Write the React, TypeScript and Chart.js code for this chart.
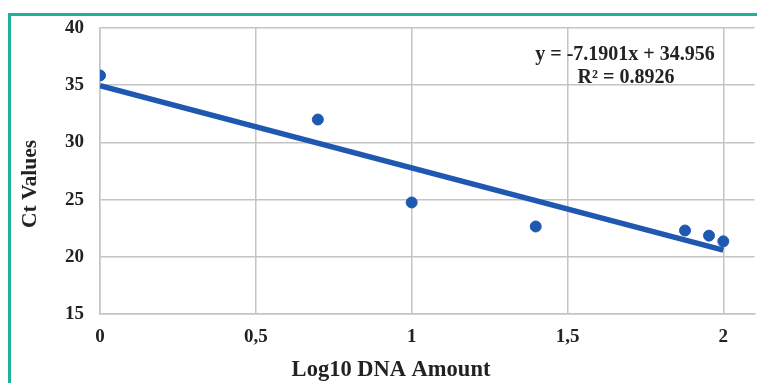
import React, { useEffect, useRef } from "react";
import { Chart, registerables } from "chart.js";

Chart.register(...registerables);

const logDNA = [0, 0.699, 1, 1.398, 1.877, 1.954, 2];
const ctValues = [35.85, 32.0, 24.75, 22.65, 22.3, 21.85, 21.35];
const trendX = [0, 2];
const trendY = [34.956, 20.576];
const xTicks = [0, 0.5, 1, 1.5, 2];
const equationLines = ["y = -7.1901x + 34.956", "R² = 0.8926"];
const xTitle = "Log10 DNA Amount";
const yTitle = "Ct Values";

const FONT = "'Liberation Serif', 'Times New Roman', serif";
const BLUE = "#1f58b0";
const GRID = "#c4c4c4";

export default function App() {
  const ref = useRef<HTMLCanvasElement | null>(null);
  useEffect(() => {
    document.body.style.margin = "0";
    const canvas = ref.current!;
    const overlay = {
      id: "overlay",
      afterDraw(chart: any) {
        const ctx = chart.ctx;
        ctx.save();
        // teal frame
        ctx.strokeStyle = "#1db39b";
        ctx.lineWidth = 3;
        ctx.beginPath();
        ctx.moveTo(9.5, 400);
        ctx.lineTo(9.5, 14.5);
        ctx.lineTo(800, 14.5);
        ctx.stroke();
        ctx.fillStyle = "#222";
        ctx.font = `bold 20px ${FONT}`;
        ctx.textAlign = "center";
        ctx.textBaseline = "middle";
        ctx.fillText(equationLines[0], 625, 55);
        ctx.fillText(equationLines[1], 626, 78);
        ctx.font = `bold 22.5px ${FONT}`;
        ctx.fillText(xTitle, 391, 370);
        ctx.font = `bold 21.5px ${FONT}`;
        ctx.translate(30, 184);
        ctx.rotate(-Math.PI / 2);
        ctx.fillText(yTitle, 0, 0);
        ctx.restore();
      },
    };
    const chart = new Chart(canvas, {
      type: "scatter",
      data: {
        datasets: [
          {
            type: "line",
            data: trendX.map((x, i) => ({ x, y: trendY[i] })),
            borderColor: BLUE,
            borderWidth: 5.5,
            pointRadius: 0,
            borderCapStyle: "butt",
            order: 2,
          } as any,
          {
            data: logDNA.map((x, i) => ({ x, y: ctValues[i] })),
            backgroundColor: BLUE,
            borderColor: BLUE,
            pointRadius: 5.5,
            order: 1,
          },
        ],
      },
      options: {
        animation: false,
        responsive: false,
        layout: { padding: { top: 28, right: 0, left: 0, bottom: 0 } },
        plugins: { legend: { display: false }, tooltip: { enabled: false } },
        scales: {
          x: {
            type: "linear",
            min: 0,
            max: 2.1,
            afterBuildTicks: (s: any) => {
              s.ticks = xTicks.map((v) => ({ value: v }));
            },
            afterFit: (s: any) => {
              s.height = 69;
            },
            ticks: {
              callback: (v: any) => String(v).replace(".", ","),
              font: { family: FONT, size: 19, weight: "bold" },
              color: "#222",
              padding: 12,
              maxRotation: 0,
            },
            grid: { color: GRID, lineWidth: 1.5, drawTicks: false },
            border: { color: GRID, width: 1.5 },
          },
          y: {
            min: 15,
            max: 40,
            afterFit: (s: any) => {
              s.width = 100;
            },
            ticks: {
              stepSize: 5,
              font: { family: FONT, size: 19, weight: "bold" },
              color: "#222",
              padding: 16,
            },
            grid: { color: GRID, lineWidth: 1.5, drawTicks: false },
            border: { color: GRID, width: 1.5 },
          },
        },
      },
      plugins: [overlay],
    });
    return () => chart.destroy();
  }, []);
  return (
    <div style={{ width: 757, height: 383, overflow: "hidden" }}>
      <canvas ref={ref} width={761} height={383} style={{ display: "block" }} />
    </div>
  );
}
